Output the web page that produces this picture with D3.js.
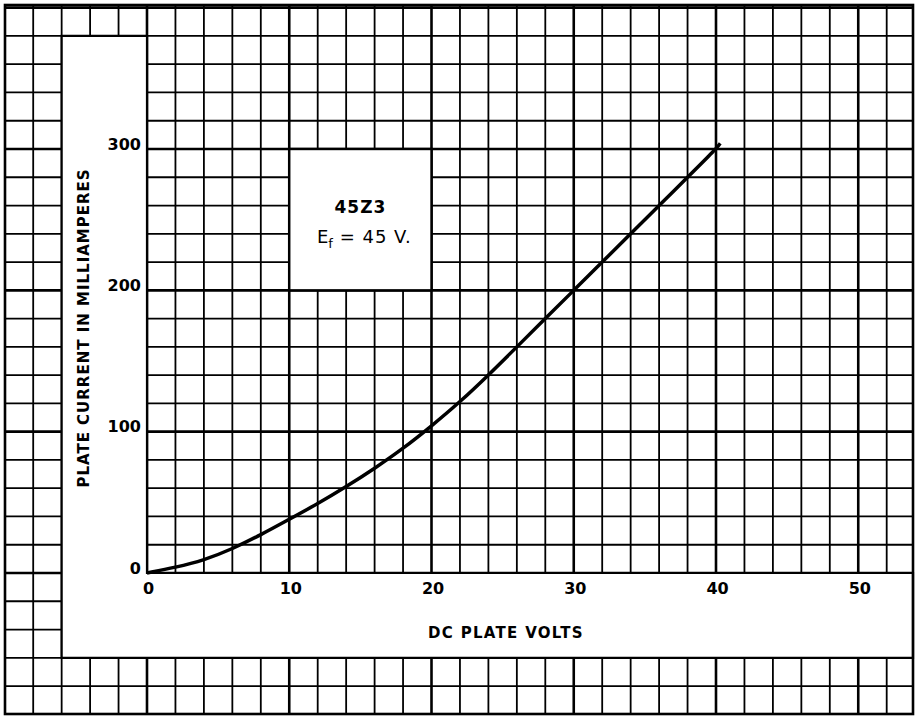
<!DOCTYPE html>
<html>
<head>
<meta charset="utf-8">
<script src="https://cdn.jsdelivr.net/npm/d3@7"></script>
<style>
  body { margin: 0; background: #fff; }
  text { font-family: "DejaVu Sans", sans-serif; fill: #000; }
</style>
</head>
<body>
<script>
  var w = 916;
  var h = 716;

  // curve: DC plate volts vs plate current (mA)
  var volts   = [0, 2, 4, 6, 8, 10, 12, 14, 16, 18, 20, 22, 24, 26, 28, 30, 32, 34, 36, 38, 40, 40.3];
  var current = [0, 4, 9, 17, 27, 38, 49, 61, 74, 88, 104, 121, 140, 160, 180, 200, 220, 240, 260, 280, 300, 304];

  var xTicks = [0, 10, 20, 30, 40, 50];
  var yTicks = [0, 100, 200, 300];

  var xTitle = "DC PLATE VOLTS";
  var yTitle = "PLATE CURRENT IN MILLIAMPERES";
  var tubeName = "45Z3";

  var x = d3.scaleLinear().domain([0, 40]).range([147, 716]);
  var y = d3.scaleLinear().domain([0, 300]).range([573, 149]);

  var border = { x0: 5, y0: 5, x1: 913, y1: 714 };

  var svg = d3.select("body").append("svg")
              .attr("width", w)
              .attr("height", h);

  svg.append("rect")
     .attr("width", w).attr("height", h)
     .attr("fill", "#fff");

  // graph paper - every 2 V and every 20 mA, heavier every 10 V / 100 mA
  var gx = d3.range(-10, 56, 2).filter(function(v){ var p = x(v); return p > border.x0 + 2 && p < border.x1 - 2; });
  var gy = d3.range(-100, 420, 20).filter(function(v){ var p = y(v); return p > border.y0 + 2 && p < border.y1 - 2; });

  var grid = svg.append("g");
  grid.selectAll("line.v")
      .data(gx)
      .enter()
      .append("line")
      .attr("x1", function(d){ return x(d); })
      .attr("x2", function(d){ return x(d); })
      .attr("y1", border.y0)
      .attr("y2", border.y1)
      .attr("stroke", "#000")
      .attr("stroke-width", function(d){ return d % 10 === 0 ? 2.6 : 1.8; });

  grid.selectAll("line.h")
      .data(gy)
      .enter()
      .append("line")
      .attr("y1", function(d){ return y(d); })
      .attr("y2", function(d){ return y(d); })
      .attr("x1", border.x0)
      .attr("x2", border.x1)
      .attr("stroke", "#000")
      .attr("stroke-width", function(d){ return d % 100 === 0 ? 2.6 : 1.8; });

  // blank L-shaped strip for the labels
  var strip = d3.path();
  strip.moveTo(x(-6), y(380));
  strip.lineTo(x(0), y(380));
  strip.lineTo(x(0), y(0));
  strip.lineTo(border.x1, y(0));
  strip.lineTo(border.x1, y(-60));
  strip.lineTo(x(-6), y(-60));
  strip.closePath();
  svg.append("path")
     .attr("d", strip.toString())
     .attr("fill", "#fff")
     .attr("stroke", "#000")
     .attr("stroke-width", 2.2);

  // blank box for the tube name
  svg.append("rect")
     .attr("x", x(10))
     .attr("y", y(300))
     .attr("width", x(20) - x(10))
     .attr("height", y(200) - y(300))
     .attr("fill", "#fff")
     .attr("stroke", "#000")
     .attr("stroke-width", 2.4);

  svg.append("rect")
     .attr("x", border.x0).attr("y", border.y0)
     .attr("width", border.x1 - border.x0)
     .attr("height", border.y1 - border.y0)
     .attr("fill", "none")
     .attr("stroke", "#000")
     .attr("stroke-width", 2.6);

  // tick labels
  var xAxis = svg.append("g")
     .attr("transform", "translate(1," + y(0) + ")")
     .call(d3.axisBottom(x).tickValues(xTicks).tickSize(0).tickPadding(10).tickFormat(d3.format("d")));
  var yAxis = svg.append("g")
     .attr("transform", "translate(" + (x(0) - 6) + ",-5)")
     .call(d3.axisLeft(y).tickValues(yTicks).tickSize(0).tickPadding(0).tickFormat(d3.format("d")));
  [xAxis, yAxis].forEach(function(a){
    a.select(".domain").remove();
    a.selectAll("text")
     .attr("font-family", "DejaVu Sans")
     .attr("font-weight", "bold")
     .attr("font-size", "16px")
     .attr("fill", "#000");
  });

  svg.append("text")
     .text(xTitle)
     .attr("x", 506)
     .attr("y", 638)
     .attr("text-anchor", "middle")
     .attr("font-weight", "bold")
     .attr("font-size", "15px")
     .attr("letter-spacing", "1.3px");

  svg.append("text")
     .text(yTitle)
     .attr("transform", "translate(89,328) rotate(-90)")
     .attr("text-anchor", "middle")
     .attr("font-weight", "bold")
     .attr("font-size", "15px")
     .attr("letter-spacing", "1px");

  var cx = (x(10) + x(20)) / 2;
  svg.append("text")
     .text(tubeName)
     .attr("x", cx)
     .attr("y", 213)
     .attr("text-anchor", "middle")
     .attr("font-weight", "bold")
     .attr("font-size", "17px")
     .attr("letter-spacing", "1px");

  var ef = svg.append("text")
     .attr("x", cx + 4)
     .attr("y", 243)
     .attr("text-anchor", "middle")
     .attr("font-size", "18px");
  ef.append("tspan").text("E");
  ef.append("tspan").text("f").attr("font-size", "13px").attr("dy", 5);
  ef.append("tspan").text(" = 45 V.").attr("dy", -5).attr("letter-spacing", "1px");

  // the characteristic
  var line = d3.line()
               .x(function(d){ return x(d[0]); })
               .y(function(d){ return y(d[1]); })
               .curve(d3.curveBasis);

  svg.append("path")
     .datum(d3.zip(volts, current))
     .attr("d", line)
     .attr("fill", "none")
     .attr("stroke", "#000")
     .attr("stroke-width", 3.5);
</script>
</body>
</html>
